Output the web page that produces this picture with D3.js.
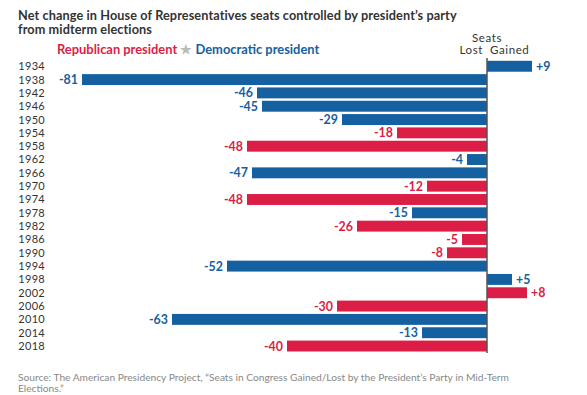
<!DOCTYPE html>
<html>
<head>
<meta charset="utf-8">
<script src="https://cdn.jsdelivr.net/npm/d3@7.9.0/dist/d3.min.js"></script>
<style>
  body { margin: 0; background: #fff; }
  svg { font-family: Lato, "Open Sans", sans-serif; }
</style>
</head>
<body>
<svg width="587" height="395"></svg>
<script>
// midterm years, seat change, president's party
const years = ['1934','1938','1942','1946','1950','1954','1958','1962','1966','1970','1974',
  '1978','1982','1986','1990','1994','1998','2002','2006','2010','2014','2018'];
const seats = [9, -81, -46, -45, -29, -18, -48, -4, -47, -12, -48,
  -15, -26, -5, -8, -52, 5, 8, -30, -63, -13, -40];
const party = ['D','D','D','D','D','R','R','D','D','R','R',
  'D','R','R','R','D','D','R','R','D','D','R'];

const colors = { R: '#dc1e46', D: '#1560a0' };

const data = years.map((y, i) => ({ year: y, value: seats[i], party: party[i] }));

const svg = d3.select('svg');

let x = d3.scaleLinear().domain([-81, 9]).range([82, 532]);
let y = d3.scaleBand().domain(years).range([59.6, 352.7]).paddingInner(0.18).paddingOuter(0.09);

// title
svg.append('text').attr('x', 18).attr('y', 19.5)
  .attr('font-size', 12.7).attr('font-weight', 'bold').attr('letter-spacing', 0.1).attr('fill', '#333')
  .text('Net change in House of Representatives seats controlled by president\u2019s party');
svg.append('text').attr('x', 18).attr('y', 34)
  .attr('font-size', 12.7).attr('font-weight', 'bold').attr('letter-spacing', 0.1).attr('fill', '#333')
  .text('from midterm elections');

// legend
let legend = svg.append('text').attr('x', 57).attr('y', 54)
  .attr('font-size', 12.9).attr('font-weight', 'bold');
legend.append('tspan').attr('fill', colors.R).text('Republican president ');
legend.append('tspan').attr('fill', '#bbb').text('\u2605 ');
legend.append('tspan').attr('fill', colors.D).text('Democratic president');

// axis header
svg.append('text').attr('x', 487).attr('y', 42).attr('text-anchor', 'middle')
  .attr('font-size', 11.5).attr('letter-spacing', 0.6).attr('fill', '#333').text('Seats');
svg.append('text').attr('x', 483).attr('y', 54).attr('text-anchor', 'end')
  .attr('font-size', 11.5).attr('letter-spacing', 0.6).attr('fill', '#333').text('Lost');
svg.append('text').attr('x', 490).attr('y', 54)
  .attr('font-size', 11.5).attr('letter-spacing', 0.6).attr('fill', '#333').text('Gained');

// bars
svg.selectAll('rect.bar').data(data).join('rect')
  .attr('class', 'bar')
  .attr('x', d => x(Math.min(0, d.value)))
  .attr('width', d => Math.abs(x(d.value) - x(0)))
  .attr('y', d => y(d.year))
  .attr('height', y.bandwidth())
  .attr('fill', d => colors[d.party]);

// zero line
svg.append('line')
  .attr('x1', x(0)).attr('x2', x(0))
  .attr('y1', 58).attr('y2', 353)
  .attr('stroke', '#555').attr('stroke-width', 1.5);

// year labels
svg.selectAll('text.year').data(data).join('text')
  .attr('class', 'year')
  .attr('x', 45)
  .attr('y', d => y(d.year) + y.bandwidth() / 2)
  .attr('dy', '0.36em')
  .attr('text-anchor', 'end')
  .attr('font-size', 11).attr('letter-spacing', 0.3).attr('fill', '#333')
  .text(d => d.year);

// value labels
svg.selectAll('text.val').data(data).join('text')
  .attr('class', 'val')
  .attr('x', d => d.value < 0 ? x(d.value) - 4 : x(d.value) + 4)
  .attr('y', d => y(d.year) + y.bandwidth() / 2)
  .attr('dy', '0.36em')
  .attr('text-anchor', d => d.value < 0 ? 'end' : 'start')
  .attr('font-size', 12.4).attr('font-weight', 'bold')
  .attr('fill', d => colors[d.party])
  .text(d => (d.value > 0 ? '+' : '') + d.value);

// source
svg.append('text').attr('x', 18).attr('y', 381)
  .attr('font-size', 10.2).attr('fill', '#888')
  .text('Source: The American Presidency Project, \u201cSeats in Congress Gained/Lost by the President\u2019s Party in Mid-Term');
svg.append('text').attr('x', 18).attr('y', 392)
  .attr('font-size', 10.2).attr('fill', '#888')
  .text('Elections.\u201d');
</script>
</body>
</html>
